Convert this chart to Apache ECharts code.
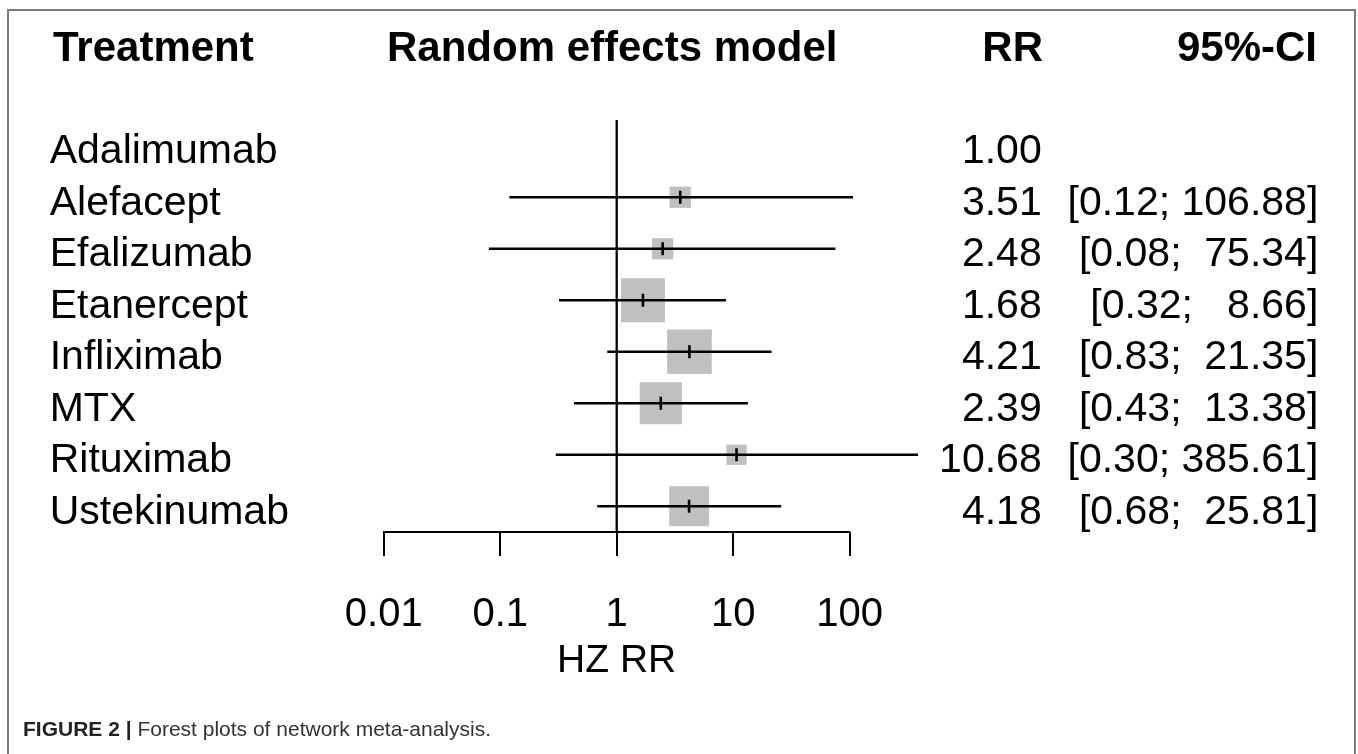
<!DOCTYPE html>
<html>
<head>
<meta charset="utf-8">
<script src="https://cdn.jsdelivr.net/npm/echarts@6/dist/echarts.min.js"></script>
<style>
  html, body { margin: 0; padding: 0; background: #fff; }
  #chart { width: 1358px; height: 754px; }
</style>
</head>
<body>
<div id="chart"></div>
<script>
// ---- data ----
var treatments = ['Adalimumab', 'Alefacept', 'Efalizumab', 'Etanercept', 'Infliximab', 'MTX', 'Rituximab', 'Ustekinumab'];
var rr        = [1.00, 3.51, 2.48, 1.68, 4.21, 2.39, 10.68, 4.18];
var ciLower   = [null, 0.12, 0.08, 0.32, 0.83, 0.43, 0.30, 0.68];
var ciUpper   = [null, 106.88, 75.34, 8.66, 21.35, 13.38, 385.61, 25.81];
var xTickValues = [0.01, 0.1, 1, 10, 100];
var xTickLabels = ['0.01', '0.1', '1', '10', '100'];
var refValue = 1;
var headers = ['Treatment', 'Random effects model', 'RR', '95%-CI'];
var xAxisTitle = 'HZ RR';
var captionBold = 'FIGURE 2 | ';
var captionText = 'Forest plots of network meta-analysis.';

// ---- derived text columns ----
function pad(s, n) { while (s.length < n) s = ' ' + s; return s; }
var rrLabels = rr.map(function (v) { return v.toFixed(2); });
var ciLabels = ciLower.map(function (lo, i) {
  if (lo == null) return ' ';
  return '[' + pad(lo.toFixed(2), 4) + '; ' + pad(ciUpper[i].toFixed(2), 6) + ']';
});
var seriesData = [];
treatments.forEach(function (t, i) {
  if (ciLower[i] != null) seriesData.push([ciLower[i], rr[i], ciUpper[i], i]);
});

var FONT = '"Liberation Sans", Arial, Helvetica, sans-serif';
var BOX_SCALE = 145; // square side (px) = BOX_SCALE / ln(upper/lower)  (proportional to 1/SE)

var chart = echarts.init(document.getElementById('chart'), null, { renderer: 'canvas' });

// verticalAlign top + small lineHeight puts the glyph centre ~6px below the row centre (as in the reference)
var rowLabelStyle = { interval: 0, fontFamily: FONT, fontSize: 41, color: '#000', verticalAlign: 'top', lineHeight: 12 };

var option = {
  backgroundColor: '#ffffff',
  animation: false,
  grid: { left: 383.7, right: 508.3, top: 120, height: 412, containLabel: false },
  xAxis: {
    type: 'log',
    logBase: 10,
    min: xTickValues[0],
    max: xTickValues[xTickValues.length - 1],
    name: xAxisTitle,
    nameLocation: 'middle',
    nameGap: 110,
    nameTextStyle: { fontFamily: FONT, fontSize: 39, color: '#000', lineHeight: 39 },
    axisLine: { show: true, lineStyle: { color: '#000', width: 2 } },
    axisTick: { show: true, inside: false, length: 24, lineStyle: { color: '#000', width: 2 } },
    axisLabel: {
      margin: 63,
      fontFamily: FONT, fontSize: 40, color: '#000', lineHeight: 40,
      formatter: function (v) {
        var best = 0, bd = Infinity;
        xTickValues.forEach(function (t, i) {
          var d = Math.abs(Math.log10(v) - Math.log10(t));
          if (d < bd) { bd = d; best = i; }
        });
        return xTickLabels[best];
      }
    },
    splitLine: { show: false },
    minorTick: { show: false }
  },
  yAxis: [
    {
      type: 'category', inverse: true, data: treatments, position: 'left',
      axisLine: { show: false }, axisTick: { show: false }, splitLine: { show: false },
      axisLabel: Object.assign({ align: 'left', margin: 334 }, rowLabelStyle)
    },
    {
      type: 'category', inverse: true, data: rrLabels, position: 'right', offset: 0,
      axisLine: { show: false }, axisTick: { show: false }, splitLine: { show: false },
      axisLabel: Object.assign({ align: 'right', margin: 192 }, rowLabelStyle)
    },
    {
      type: 'category', inverse: true, data: ciLabels, position: 'right', offset: 0,
      axisLine: { show: false }, axisTick: { show: false }, splitLine: { show: false },
      axisLabel: Object.assign({ align: 'right', margin: 468.6 }, rowLabelStyle)
    }
  ],
  series: [{
    type: 'custom',
    xAxisIndex: 0,
    yAxisIndex: 0,
    clip: false,
    encode: { x: [0, 1, 2], y: 3 },
    data: seriesData,
    renderItem: function (params, api) {
      var lo = api.value(0), est = api.value(1), hi = api.value(2), row = api.value(3);
      var pLo = api.coord([lo, row]);
      var pEst = api.coord([est, row]);
      var pHi = api.coord([hi, row]);
      var s = BOX_SCALE / Math.log(hi / lo);
      var children = [];
      if (params.dataIndex === 0) {
        // reference (no-effect) line at RR = refValue, spanning the plot height
        var cs = params.coordSys;
        var pRef = api.coord([refValue, row]);
        children.push({ type: 'line', z2: 1, shape: { x1: pRef[0], y1: cs.y, x2: pRef[0], y2: cs.y + cs.height }, style: { stroke: '#000', lineWidth: 2.3 } });
      }
      children.push(
        { type: 'rect', z2: 0, shape: { x: pEst[0] - s / 2, y: pEst[1] - s / 2, width: s, height: s }, style: { fill: '#c0c0c0' } },
        { type: 'line', z2: 2, shape: { x1: pLo[0], y1: pLo[1], x2: pHi[0], y2: pHi[1] }, style: { stroke: '#000', lineWidth: 2.4 } },
        { type: 'line', z2: 3, shape: { x1: pEst[0], y1: pEst[1] - 6.5, x2: pEst[0], y2: pEst[1] + 6.5 }, style: { stroke: '#000', lineWidth: 2.6 } }
      );
      return { type: 'group', children: children };
    }
  }],
  graphic: [
    { type: 'rect', z: -10, shape: { x: 8, y: 10, width: 1347, height: 800 }, style: { fill: 'none', stroke: '#7a7a7a', lineWidth: 2 } },
    { type: 'text', style: { x: 53, y: 49, text: headers[0], textAlign: 'left', textVerticalAlign: 'middle', font: 'bold 42px ' + FONT, fill: '#000' } },
    { type: 'text', style: { x: 387, y: 49, text: headers[1], textAlign: 'left', textVerticalAlign: 'middle', font: 'bold 42px ' + FONT, fill: '#000' } },
    { type: 'text', style: { x: 1043, y: 49, text: headers[2], textAlign: 'right', textVerticalAlign: 'middle', font: 'bold 42px ' + FONT, fill: '#000' } },
    { type: 'text', style: { x: 1317, y: 49, text: headers[3], textAlign: 'right', textVerticalAlign: 'middle', font: 'bold 42px ' + FONT, fill: '#000' } },
    {
      type: 'text',
      style: {
        x: 23, y: 730, textVerticalAlign: 'middle',
        text: '{b|' + captionBold + '}{r|' + captionText + '}',
        rich: {
          b: { fontFamily: FONT, fontSize: 21, fontWeight: 'bold', fill: '#222' },
          r: { fontFamily: FONT, fontSize: 21, fill: '#333' }
        }
      }
    }
  ]
};
chart.setOption(option);
</script>
</body>
</html>
